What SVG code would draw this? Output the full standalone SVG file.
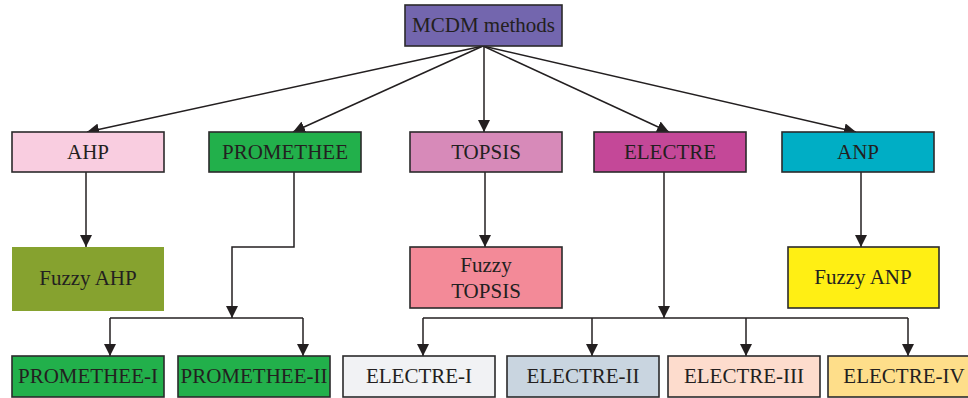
<svg xmlns="http://www.w3.org/2000/svg" width="968" height="398" viewBox="0 0 968 398">
<style>
.box{stroke:#2b2a2b;stroke-width:1.6}
.t{font-family:"Liberation Serif","Times New Roman",serif;font-size:21px;fill:#231f20;text-anchor:middle}
.c{fill:none;stroke:#231f20;stroke-width:1.5}
</style>
<defs>
<marker id="ah" markerUnits="userSpaceOnUse" markerWidth="12" markerHeight="12" refX="12" refY="6" orient="auto">
<path d="M0,0 L12,6 L0,12 z" fill="#231f20"/>
</marker>
</defs>
<rect width="968" height="398" fill="#ffffff"/>
<g id="connectors">
<path class="c" d="M483,46 L87,132" marker-end="url(#ah)"/>
<path class="c" d="M483,46 L293,132" marker-end="url(#ah)"/>
<path class="c" d="M484,46 L484,132" marker-end="url(#ah)"/>
<path class="c" d="M483,46 L669,132" marker-end="url(#ah)"/>
<path class="c" d="M483,46 L856,132" marker-end="url(#ah)"/>
<path class="c" d="M86,172 V247" marker-end="url(#ah)"/>
<path class="c" d="M485,172 V247" marker-end="url(#ah)"/>
<path class="c" d="M861,172 V247" marker-end="url(#ah)"/>
<path class="c" d="M294,172 V247 H232 V318" marker-end="url(#ah)"/>
<path class="c" d="M110,318 H303"/>
<path class="c" d="M110,318 V356" marker-end="url(#ah)"/>
<path class="c" d="M303,318 V356" marker-end="url(#ah)"/>
<path class="c" d="M664,172 V318" marker-end="url(#ah)"/>
<path class="c" d="M423,318 H908"/>
<path class="c" d="M423,318 V356" marker-end="url(#ah)"/>
<path class="c" d="M592,318 V356" marker-end="url(#ah)"/>
<path class="c" d="M746,318 V356" marker-end="url(#ah)"/>
<path class="c" d="M908,318 V356" marker-end="url(#ah)"/>
</g>
<g id="mcdm"><rect class="box" x="405" y="5" width="157" height="41" fill="#7366ae"/><text class="t" x="483.5" y="32">MCDM methods</text></g>
<g id="ahp"><rect class="box" x="12" y="132" width="152" height="40" fill="#f9cde0"/><text class="t" x="88" y="159">AHP</text></g>
<g id="promethee"><rect class="box" x="209" y="132" width="152" height="40" fill="#22b04b"/><text class="t" x="285" y="159">PROMETHEE</text></g>
<g id="topsis"><rect class="box" x="410" y="132" width="152" height="40" fill="#d78ab9"/><text class="t" x="486" y="159">TOPSIS</text></g>
<g id="electre"><rect class="box" x="594" y="132" width="152" height="40" fill="#c44898"/><text class="t" x="670" y="159">ELECTRE</text></g>
<g id="anp"><rect class="box" x="782" y="132" width="152" height="40" fill="#00aec5"/><text class="t" x="858" y="159">ANP</text></g>
<g id="fuzzy-ahp"><rect x="12" y="247" width="152" height="64" fill="#86a22f"/><text class="t" x="88" y="285">Fuzzy AHP</text></g>
<g id="fuzzy-topsis"><rect class="box" x="410" y="247" width="152" height="61" fill="#f38a98"/><text class="t" x="486" y="272">Fuzzy</text><text class="t" x="486" y="298">TOPSIS</text></g>
<g id="fuzzy-anp"><rect class="box" x="788" y="247" width="151" height="61" fill="#ffef14"/><text class="t" x="863" y="284">Fuzzy ANP</text></g>
<g id="promethee-i"><rect class="box" x="12" y="356" width="152" height="41" fill="#22b04b"/><text class="t" x="88" y="383">PROMETHEE-I</text></g>
<g id="promethee-ii"><rect class="box" x="178" y="356" width="152" height="41" fill="#22b04b"/><text class="t" x="254" y="383">PROMETHEE-II</text></g>
<g id="electre-i"><rect class="box" x="343" y="356" width="152" height="41" fill="#f1f2f4"/><text class="t" x="419" y="383">ELECTRE-I</text></g>
<g id="electre-ii"><rect class="box" x="507" y="356" width="152" height="41" fill="#c9d5e0"/><text class="t" x="583" y="383">ELECTRE-II</text></g>
<g id="electre-iii"><rect class="box" x="668" y="356" width="152" height="41" fill="#fddccd"/><text class="t" x="744" y="383">ELECTRE-III</text></g>
<g id="electre-iv"><rect class="box" x="828" y="356" width="152" height="41" fill="#fede8a"/><text class="t" x="904" y="383">ELECTRE-IV</text></g>
</svg>
